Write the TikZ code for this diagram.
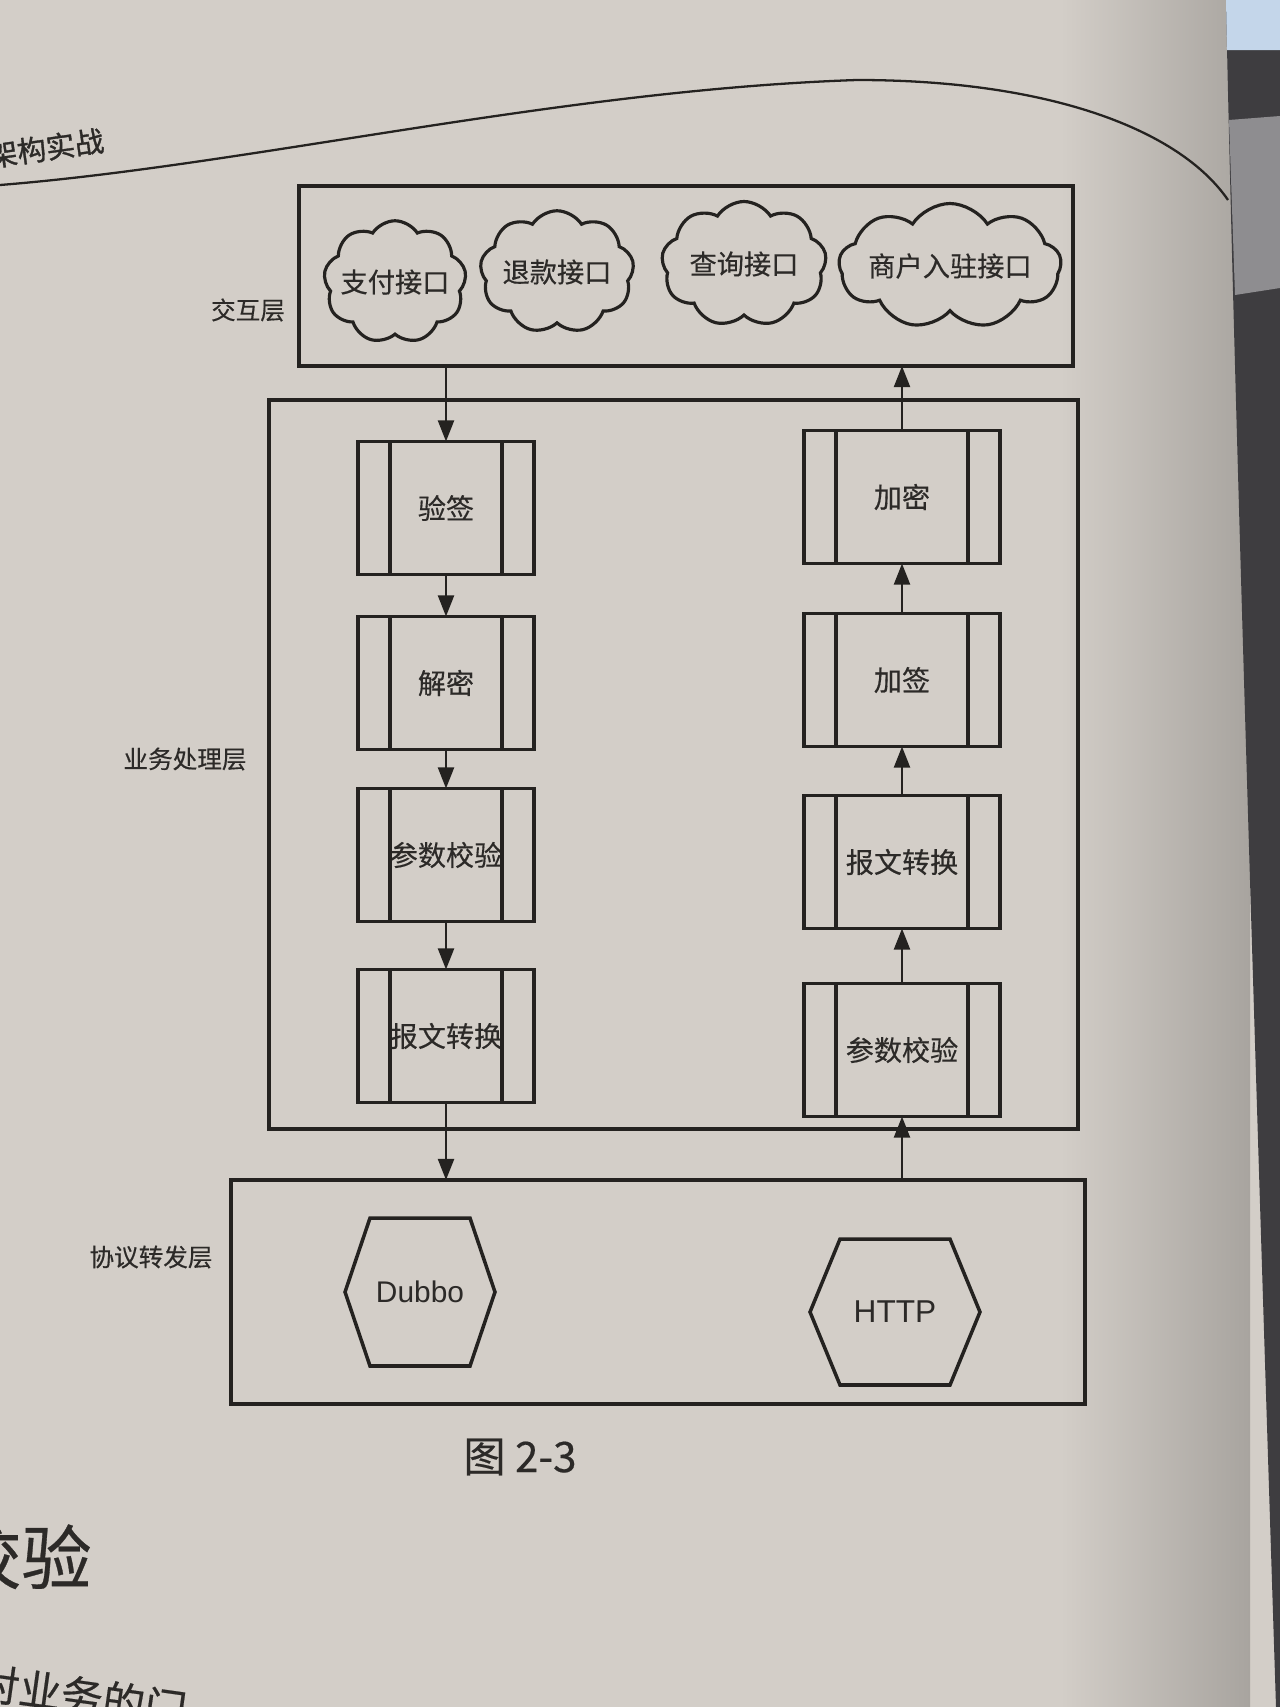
\documentclass[tikz,border=0pt]{standalone}
\usepackage{fontspec}
\newfontfamily\cjk[FakeBold=0.4]{Noto Sans CJK SC}
\newfontfamily\cjkbold[FakeBold=1.2]{Noto Sans CJK SC}
\newfontfamily\lat{Liberation Sans}
\usetikzlibrary{shapes.symbols,shapes.geometric,arrows.meta}
\definecolor{paper}{HTML}{D3CEC8}
\definecolor{shadeR}{HTML}{A8A49F}
\definecolor{darkbg}{HTML}{3E3D40}
\definecolor{midbg}{HTML}{8E8D90}
\definecolor{skyblue}{HTML}{C4D6EA}
\definecolor{ink}{HTML}{242220}
\definecolor{txt}{HTML}{2C2A28}
\begin{document}
\begin{tikzpicture}[x=0.02cm,y=-0.02cm,
  layer/.style={draw=ink, line width=2pt, rectangle, inner sep=0pt, outer sep=0pt},
  pbox/.style={draw=ink, line width=2pt, rectangle, minimum height=2.66cm, inner sep=0pt, outer sep=0pt,
    font=\cjk\fontsize{16}{18}\selectfont, text=txt},
  lbox/.style={pbox, minimum width=3.52cm},
  rbox/.style={pbox, minimum width=3.92cm},
  innerline/.style={draw=ink, line width=2pt},
  cloudshape/.style={draw=ink, line width=1.8pt, cloud, cloud puffs=9, cloud puff arc=115,
    cloud ignores aspect, inner sep=0pt, outer sep=0pt},
  ctext/.style={font=\cjk\fontsize{15.5}{18}\selectfont, text=txt, inner sep=0pt},
  hexbox/.style={draw=none, rectangle, inner sep=0pt, outer sep=0pt, text=txt,
    font=\lat\fontsize{17}{20}\selectfont},
  hexline/.style={draw=ink, line width=2pt, line join=miter},
  lab/.style={font=\cjk\fontsize{14}{16}\selectfont, text=txt},
  arr/.style={draw=ink, line width=1.6pt, -{Triangle[length=12pt,width=9pt]}},
  rule/.style={draw=ink, line width=1.3pt}
]
\useasboundingbox (0,0) rectangle (1280,1707);
% paper and surroundings
\fill[paper] (0,0) rectangle (1280,1707);
\shade[left color=paper, right color=shadeR] (1060,0) rectangle (1250,1707);
\fill[darkbg] (1226,0) .. controls (1232,300) and (1250,900) .. (1276,1707) -- (1280,1707) -- (1280,0) -- cycle;
\fill[midbg] (1229,120) -- (1280,116) -- (1280,288) -- (1235,295) -- cycle;
\fill[skyblue] (1226,0) -- (1280,0) -- (1280,50) -- (1227,50) -- cycle;

% running head
\draw[rule] (0,185) .. controls (250,165) and (560,90) .. (857,80)
  .. controls (1050,80) and (1180,130) .. (1228,200);
\node[font=\cjkbold\fontsize{16.5}{18}\selectfont, text=txt, rotate=8] (hdr) at (46,148) {架构实战};

% layers
\node[layer, minimum width=15.48cm, minimum height=3.6cm] (L1) at (686,276) {};
\node[layer, minimum width=16.18cm, minimum height=14.58cm] (L2) at (673.5,764.5) {};
\node[layer, minimum width=17.08cm, minimum height=4.48cm] (L3) at (658,1292) {};

\node[lab] (t1) at (248,310) {交互层};
\node[lab] (t2) at (185,759) {业务处理层};
\node[lab] (t3) at (151,1257) {协议转发层};

% clouds
\node[cloudshape, minimum width=2.85cm, minimum height=2.45cm] (c1) at (395,282) {};
\node[cloudshape, minimum width=3.08cm, minimum height=2.45cm] (c2) at (557,272) {};
\node[cloudshape, minimum width=3.3cm, minimum height=2.5cm] (c3) at (744,264) {};
\node[cloudshape, minimum width=4.45cm, minimum height=2.5cm] (c4) at (950,266) {};
\node[ctext] (c1t) at (c1) {支付接口};
\node[ctext] (c2t) at (c2) {退款接口};
\node[ctext] (c3t) at (c3) {查询接口};
\node[ctext] (c4t) at (c4) {商户入驻接口};

% processing boxes
\node[lbox] (v1) at (446,508) {验签};
\node[lbox] (v2) at (446,683) {解密};
\node[lbox] (v3) at (446,855) {参数校验};
\node[lbox] (v4) at (446,1036) {报文转换};
\node[rbox] (w1) at (902,497) {加密};
\node[rbox] (w2) at (902,680) {加签};
\node[rbox] (w3) at (902,862) {报文转换};
\node[rbox] (w4) at (902,1050) {参数校验};
\foreach \n in {v1,v2,v3,v4,w1,w2,w3,w4}{
  \draw[innerline] ([xshift=0.64cm]\n.north west) -- ([xshift=0.64cm]\n.south west);
  \draw[innerline] ([xshift=-0.64cm]\n.north east) -- ([xshift=-0.64cm]\n.south east);
}

% protocol hexagons
\node[hexbox, minimum width=3.0cm, minimum height=2.96cm] (dub) at (420,1292) {Dubbo};
\node[hexbox, minimum width=3.4cm, minimum height=2.92cm, font=\lat\fontsize{18}{20}\selectfont] (http) at (895,1312) {HTTP};
\draw[hexline] (dub.west) -- ([xshift=0.5cm]dub.north west) -- ([xshift=-0.5cm]dub.north east)
  -- (dub.east) -- ([xshift=-0.5cm]dub.south east) -- ([xshift=0.5cm]dub.south west) -- cycle;
\draw[hexline] (http.west) -- ([xshift=0.6cm]http.north west) -- ([xshift=-0.6cm]http.north east)
  -- (http.east) -- ([xshift=-0.6cm]http.south east) -- ([xshift=0.6cm]http.south west) -- cycle;

% connectors
\draw[arr] (v1 |- L1.south) -- (v1.north);
\draw[arr] (v1) -- (v2);
\draw[arr] (v2) -- (v3);
\draw[arr] (v3) -- (v4);
\draw[arr] (v4.south) -- (v4 |- L3.north);
\draw[arr] (w4 |- L3.north) -- (w4.south);
\draw[arr] (w4) -- (w3);
\draw[arr] (w3) -- (w2);
\draw[arr] (w2) -- (w1);
\draw[arr] (w1.north) -- (w1 |- L1.south);

% caption and page text
\node[font=\cjk\fontsize{24}{28}\selectfont, text=txt] (cap) at (520,1457) {图 2-3};
\node[font=\cjk\fontsize{40}{44}\selectfont, text=txt, anchor=east, inner sep=0pt] (sec) at (92,1557) {校验};
\node[font=\cjk\fontsize{24}{28}\selectfont, text=txt, rotate=-8, inner sep=0pt] (body) at (82,1696) {对业务的门};
\end{tikzpicture}
\end{document}
